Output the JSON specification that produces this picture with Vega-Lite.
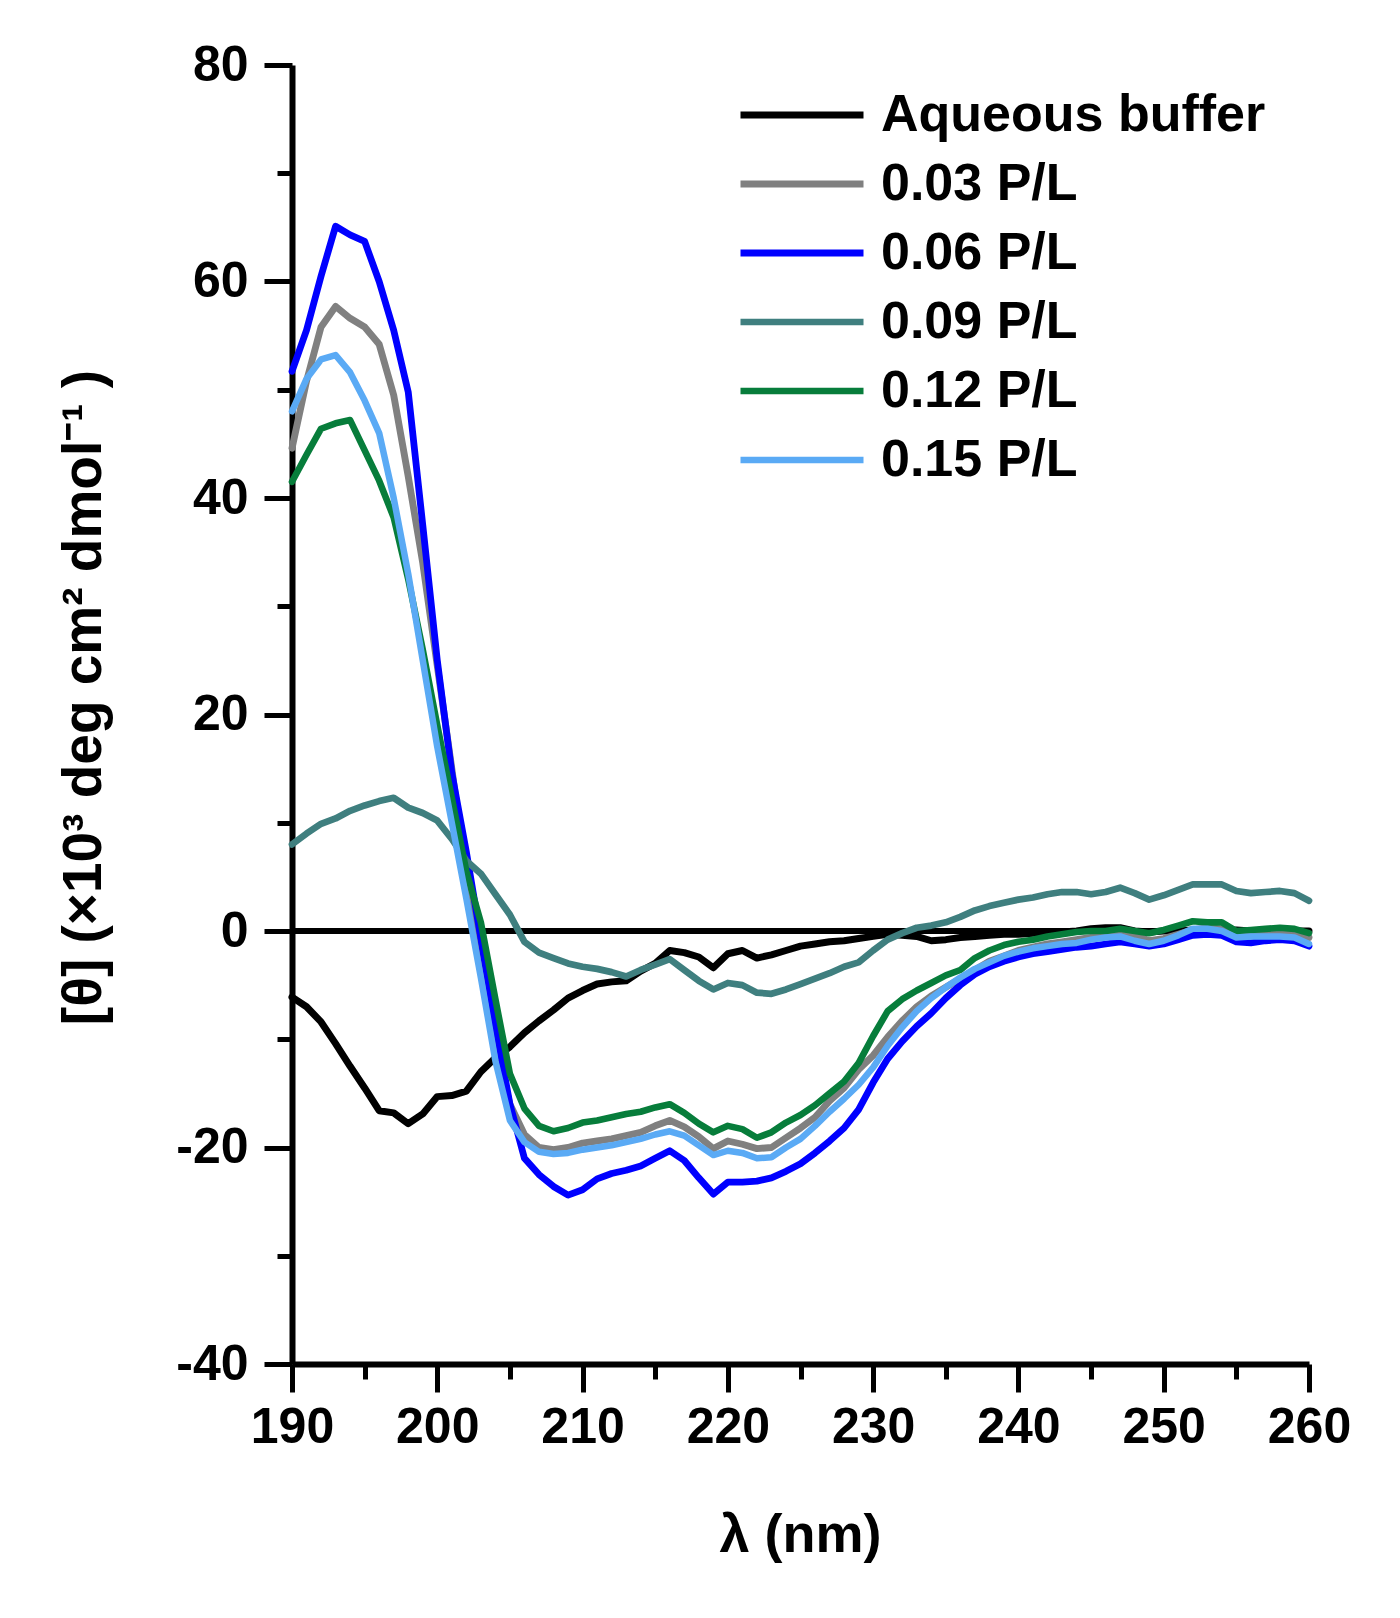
{
  "$schema": "https://vega.github.io/schema/vega-lite/v6.json",
  "width": 1017,
  "height": 1299,
  "autosize": {"type": "none"},
  "padding": {"left": 292, "top": 65, "right": 91, "bottom": 254},
  "background": "white",
  "config": {"view": {"stroke": null}, "font": "Liberation Sans"},
  "layer": [
    {
      "data": {"values": [{"zero": 0}]},
      "mark": {"type": "rule", "color": "black", "strokeWidth": 6},
      "encoding": {
        "y": {"field": "zero", "type": "quantitative", "scale": {"domain": [-40, 80], "nice": false, "zero": false}}
      }
    },
    {
      "data": {"values": [
        {"s":"Aqueous buffer","x":190,"y":-6.1},{"s":"Aqueous buffer","x":191,"y":-7.0},{"s":"Aqueous buffer","x":192,"y":-8.4},{"s":"Aqueous buffer","x":193,"y":-10.4},{"s":"Aqueous buffer","x":194,"y":-12.5},{"s":"Aqueous buffer","x":195,"y":-14.5},{"s":"Aqueous buffer","x":196,"y":-16.6},{"s":"Aqueous buffer","x":197,"y":-16.8},{"s":"Aqueous buffer","x":198,"y":-17.8},{"s":"Aqueous buffer","x":199,"y":-16.9},
        {"s":"Aqueous buffer","x":200,"y":-15.3},{"s":"Aqueous buffer","x":201,"y":-15.2},{"s":"Aqueous buffer","x":202,"y":-14.8},{"s":"Aqueous buffer","x":203,"y":-13.0},{"s":"Aqueous buffer","x":204,"y":-11.7},{"s":"Aqueous buffer","x":205,"y":-10.7},{"s":"Aqueous buffer","x":206,"y":-9.4},{"s":"Aqueous buffer","x":207,"y":-8.3},{"s":"Aqueous buffer","x":208,"y":-7.3},{"s":"Aqueous buffer","x":209,"y":-6.2},
        {"s":"Aqueous buffer","x":210,"y":-5.5},{"s":"Aqueous buffer","x":211,"y":-4.9},{"s":"Aqueous buffer","x":212,"y":-4.7},{"s":"Aqueous buffer","x":213,"y":-4.6},{"s":"Aqueous buffer","x":214,"y":-3.7},{"s":"Aqueous buffer","x":215,"y":-3.0},{"s":"Aqueous buffer","x":216,"y":-1.8},{"s":"Aqueous buffer","x":217,"y":-2.0},{"s":"Aqueous buffer","x":218,"y":-2.4},{"s":"Aqueous buffer","x":219,"y":-3.4},
        {"s":"Aqueous buffer","x":220,"y":-2.1},{"s":"Aqueous buffer","x":221,"y":-1.8},{"s":"Aqueous buffer","x":222,"y":-2.5},{"s":"Aqueous buffer","x":223,"y":-2.2},{"s":"Aqueous buffer","x":224,"y":-1.8},{"s":"Aqueous buffer","x":225,"y":-1.4},{"s":"Aqueous buffer","x":226,"y":-1.2},{"s":"Aqueous buffer","x":227,"y":-1.0},{"s":"Aqueous buffer","x":228,"y":-0.9},{"s":"Aqueous buffer","x":229,"y":-0.7},
        {"s":"Aqueous buffer","x":230,"y":-0.5},{"s":"Aqueous buffer","x":231,"y":-0.3},{"s":"Aqueous buffer","x":232,"y":-0.4},{"s":"Aqueous buffer","x":233,"y":-0.5},{"s":"Aqueous buffer","x":234,"y":-0.9},{"s":"Aqueous buffer","x":235,"y":-0.8},{"s":"Aqueous buffer","x":236,"y":-0.6},{"s":"Aqueous buffer","x":237,"y":-0.5},{"s":"Aqueous buffer","x":238,"y":-0.4},{"s":"Aqueous buffer","x":239,"y":-0.3},
        {"s":"Aqueous buffer","x":240,"y":-0.3},{"s":"Aqueous buffer","x":241,"y":-0.2},{"s":"Aqueous buffer","x":242,"y":-0.2},{"s":"Aqueous buffer","x":243,"y":-0.1},{"s":"Aqueous buffer","x":244,"y":0.0},{"s":"Aqueous buffer","x":245,"y":0.2},{"s":"Aqueous buffer","x":246,"y":0.3},{"s":"Aqueous buffer","x":247,"y":0.3},{"s":"Aqueous buffer","x":248,"y":0.0},{"s":"Aqueous buffer","x":249,"y":-0.1},
        {"s":"Aqueous buffer","x":250,"y":0.0},{"s":"Aqueous buffer","x":251,"y":0.0},{"s":"Aqueous buffer","x":252,"y":0.1},{"s":"Aqueous buffer","x":253,"y":0.0},{"s":"Aqueous buffer","x":254,"y":0.0},{"s":"Aqueous buffer","x":255,"y":0.1},{"s":"Aqueous buffer","x":256,"y":0.0},{"s":"Aqueous buffer","x":257,"y":0.0},{"s":"Aqueous buffer","x":258,"y":0.0},{"s":"Aqueous buffer","x":259,"y":0.0},{"s":"Aqueous buffer","x":260,"y":0.0},

        {"s":"0.03 P/L","x":190,"y":44.6},{"s":"0.03 P/L","x":191,"y":50.8},{"s":"0.03 P/L","x":192,"y":55.8},{"s":"0.03 P/L","x":193,"y":57.7},{"s":"0.03 P/L","x":194,"y":56.6},{"s":"0.03 P/L","x":195,"y":55.8},{"s":"0.03 P/L","x":196,"y":54.2},{"s":"0.03 P/L","x":197,"y":49.5},{"s":"0.03 P/L","x":198,"y":42.0},{"s":"0.03 P/L","x":199,"y":34.0},
        {"s":"0.03 P/L","x":200,"y":24.5},{"s":"0.03 P/L","x":201,"y":15.0},{"s":"0.03 P/L","x":202,"y":5.0},{"s":"0.03 P/L","x":203,"y":-2.5},{"s":"0.03 P/L","x":204,"y":-10.5},{"s":"0.03 P/L","x":205,"y":-16.0},{"s":"0.03 P/L","x":206,"y":-18.8},{"s":"0.03 P/L","x":207,"y":-20.0},{"s":"0.03 P/L","x":208,"y":-20.2},{"s":"0.03 P/L","x":209,"y":-20.0},
        {"s":"0.03 P/L","x":210,"y":-19.6},{"s":"0.03 P/L","x":211,"y":-19.4},{"s":"0.03 P/L","x":212,"y":-19.2},{"s":"0.03 P/L","x":213,"y":-18.9},{"s":"0.03 P/L","x":214,"y":-18.6},{"s":"0.03 P/L","x":215,"y":-18.0},{"s":"0.03 P/L","x":216,"y":-17.5},{"s":"0.03 P/L","x":217,"y":-18.1},{"s":"0.03 P/L","x":218,"y":-19.0},{"s":"0.03 P/L","x":219,"y":-20.1},
        {"s":"0.03 P/L","x":220,"y":-19.4},{"s":"0.03 P/L","x":221,"y":-19.7},{"s":"0.03 P/L","x":222,"y":-20.1},{"s":"0.03 P/L","x":223,"y":-20.0},{"s":"0.03 P/L","x":224,"y":-19.1},{"s":"0.03 P/L","x":225,"y":-18.2},{"s":"0.03 P/L","x":226,"y":-17.2},{"s":"0.03 P/L","x":227,"y":-15.7},{"s":"0.03 P/L","x":228,"y":-14.5},{"s":"0.03 P/L","x":229,"y":-12.8},
        {"s":"0.03 P/L","x":230,"y":-11.5},{"s":"0.03 P/L","x":231,"y":-9.8},{"s":"0.03 P/L","x":232,"y":-8.3},{"s":"0.03 P/L","x":233,"y":-7.0},{"s":"0.03 P/L","x":234,"y":-6.0},{"s":"0.03 P/L","x":235,"y":-5.2},{"s":"0.03 P/L","x":236,"y":-4.4},{"s":"0.03 P/L","x":237,"y":-3.6},{"s":"0.03 P/L","x":238,"y":-2.8},{"s":"0.03 P/L","x":239,"y":-2.3},
        {"s":"0.03 P/L","x":240,"y":-1.8},{"s":"0.03 P/L","x":241,"y":-1.5},{"s":"0.03 P/L","x":242,"y":-1.2},{"s":"0.03 P/L","x":243,"y":-1.0},{"s":"0.03 P/L","x":244,"y":-0.8},{"s":"0.03 P/L","x":245,"y":-0.6},{"s":"0.03 P/L","x":246,"y":-0.5},{"s":"0.03 P/L","x":247,"y":-0.2},{"s":"0.03 P/L","x":248,"y":-0.4},{"s":"0.03 P/L","x":249,"y":-0.9},
        {"s":"0.03 P/L","x":250,"y":-0.7},{"s":"0.03 P/L","x":251,"y":-0.3},{"s":"0.03 P/L","x":252,"y":0.1},{"s":"0.03 P/L","x":253,"y":0.3},{"s":"0.03 P/L","x":254,"y":0.2},{"s":"0.03 P/L","x":255,"y":-0.4},{"s":"0.03 P/L","x":256,"y":-0.3},{"s":"0.03 P/L","x":257,"y":-0.2},{"s":"0.03 P/L","x":258,"y":-0.1},{"s":"0.03 P/L","x":259,"y":-0.2},{"s":"0.03 P/L","x":260,"y":-0.6},

        {"s":"0.06 P/L","x":190,"y":51.7},{"s":"0.06 P/L","x":191,"y":55.5},{"s":"0.06 P/L","x":192,"y":60.5},{"s":"0.06 P/L","x":193,"y":65.1},{"s":"0.06 P/L","x":194,"y":64.3},{"s":"0.06 P/L","x":195,"y":63.7},{"s":"0.06 P/L","x":196,"y":60.0},{"s":"0.06 P/L","x":197,"y":55.5},{"s":"0.06 P/L","x":198,"y":49.8},{"s":"0.06 P/L","x":199,"y":37.5},
        {"s":"0.06 P/L","x":200,"y":25.0},{"s":"0.06 P/L","x":201,"y":14.6},{"s":"0.06 P/L","x":202,"y":7.3},{"s":"0.06 P/L","x":203,"y":-0.7},{"s":"0.06 P/L","x":204,"y":-8.7},{"s":"0.06 P/L","x":205,"y":-16.0},{"s":"0.06 P/L","x":206,"y":-21.0},{"s":"0.06 P/L","x":207,"y":-22.5},{"s":"0.06 P/L","x":208,"y":-23.6},{"s":"0.06 P/L","x":209,"y":-24.4},
        {"s":"0.06 P/L","x":210,"y":-23.9},{"s":"0.06 P/L","x":211,"y":-22.9},{"s":"0.06 P/L","x":212,"y":-22.4},{"s":"0.06 P/L","x":213,"y":-22.1},{"s":"0.06 P/L","x":214,"y":-21.7},{"s":"0.06 P/L","x":215,"y":-21.0},{"s":"0.06 P/L","x":216,"y":-20.3},{"s":"0.06 P/L","x":217,"y":-21.2},{"s":"0.06 P/L","x":218,"y":-22.8},{"s":"0.06 P/L","x":219,"y":-24.3},
        {"s":"0.06 P/L","x":220,"y":-23.2},{"s":"0.06 P/L","x":221,"y":-23.2},{"s":"0.06 P/L","x":222,"y":-23.1},{"s":"0.06 P/L","x":223,"y":-22.8},{"s":"0.06 P/L","x":224,"y":-22.2},{"s":"0.06 P/L","x":225,"y":-21.5},{"s":"0.06 P/L","x":226,"y":-20.5},{"s":"0.06 P/L","x":227,"y":-19.4},{"s":"0.06 P/L","x":228,"y":-18.2},{"s":"0.06 P/L","x":229,"y":-16.5},
        {"s":"0.06 P/L","x":230,"y":-14.0},{"s":"0.06 P/L","x":231,"y":-11.8},{"s":"0.06 P/L","x":232,"y":-10.2},{"s":"0.06 P/L","x":233,"y":-8.8},{"s":"0.06 P/L","x":234,"y":-7.6},{"s":"0.06 P/L","x":235,"y":-6.2},{"s":"0.06 P/L","x":236,"y":-5.0},{"s":"0.06 P/L","x":237,"y":-4.0},{"s":"0.06 P/L","x":238,"y":-3.3},{"s":"0.06 P/L","x":239,"y":-2.8},
        {"s":"0.06 P/L","x":240,"y":-2.4},{"s":"0.06 P/L","x":241,"y":-2.1},{"s":"0.06 P/L","x":242,"y":-1.9},{"s":"0.06 P/L","x":243,"y":-1.7},{"s":"0.06 P/L","x":244,"y":-1.5},{"s":"0.06 P/L","x":245,"y":-1.4},{"s":"0.06 P/L","x":246,"y":-1.2},{"s":"0.06 P/L","x":247,"y":-1.0},{"s":"0.06 P/L","x":248,"y":-1.2},{"s":"0.06 P/L","x":249,"y":-1.4},
        {"s":"0.06 P/L","x":250,"y":-1.2},{"s":"0.06 P/L","x":251,"y":-0.8},{"s":"0.06 P/L","x":252,"y":-0.4},{"s":"0.06 P/L","x":253,"y":-0.3},{"s":"0.06 P/L","x":254,"y":-0.4},{"s":"0.06 P/L","x":255,"y":-1.0},{"s":"0.06 P/L","x":256,"y":-1.1},{"s":"0.06 P/L","x":257,"y":-0.9},{"s":"0.06 P/L","x":258,"y":-0.8},{"s":"0.06 P/L","x":259,"y":-0.9},{"s":"0.06 P/L","x":260,"y":-1.4},

        {"s":"0.09 P/L","x":190,"y":8.0},{"s":"0.09 P/L","x":191,"y":9.0},{"s":"0.09 P/L","x":192,"y":9.9},{"s":"0.09 P/L","x":193,"y":10.4},{"s":"0.09 P/L","x":194,"y":11.1},{"s":"0.09 P/L","x":195,"y":11.6},{"s":"0.09 P/L","x":196,"y":12.0},{"s":"0.09 P/L","x":197,"y":12.3},{"s":"0.09 P/L","x":198,"y":11.4},{"s":"0.09 P/L","x":199,"y":10.9},
        {"s":"0.09 P/L","x":200,"y":10.2},{"s":"0.09 P/L","x":201,"y":8.5},{"s":"0.09 P/L","x":202,"y":6.5},{"s":"0.09 P/L","x":203,"y":5.3},{"s":"0.09 P/L","x":204,"y":3.4},{"s":"0.09 P/L","x":205,"y":1.5},{"s":"0.09 P/L","x":206,"y":-1.0},{"s":"0.09 P/L","x":207,"y":-2.0},{"s":"0.09 P/L","x":208,"y":-2.5},{"s":"0.09 P/L","x":209,"y":-3.0},
        {"s":"0.09 P/L","x":210,"y":-3.3},{"s":"0.09 P/L","x":211,"y":-3.5},{"s":"0.09 P/L","x":212,"y":-3.8},{"s":"0.09 P/L","x":213,"y":-4.2},{"s":"0.09 P/L","x":214,"y":-3.6},{"s":"0.09 P/L","x":215,"y":-3.1},{"s":"0.09 P/L","x":216,"y":-2.6},{"s":"0.09 P/L","x":217,"y":-3.6},{"s":"0.09 P/L","x":218,"y":-4.6},{"s":"0.09 P/L","x":219,"y":-5.4},
        {"s":"0.09 P/L","x":220,"y":-4.8},{"s":"0.09 P/L","x":221,"y":-5.0},{"s":"0.09 P/L","x":222,"y":-5.7},{"s":"0.09 P/L","x":223,"y":-5.8},{"s":"0.09 P/L","x":224,"y":-5.4},{"s":"0.09 P/L","x":225,"y":-4.9},{"s":"0.09 P/L","x":226,"y":-4.4},{"s":"0.09 P/L","x":227,"y":-3.9},{"s":"0.09 P/L","x":228,"y":-3.3},{"s":"0.09 P/L","x":229,"y":-2.9},
        {"s":"0.09 P/L","x":230,"y":-1.8},{"s":"0.09 P/L","x":231,"y":-0.8},{"s":"0.09 P/L","x":232,"y":-0.2},{"s":"0.09 P/L","x":233,"y":0.3},{"s":"0.09 P/L","x":234,"y":0.5},{"s":"0.09 P/L","x":235,"y":0.8},{"s":"0.09 P/L","x":236,"y":1.3},{"s":"0.09 P/L","x":237,"y":1.9},{"s":"0.09 P/L","x":238,"y":2.3},{"s":"0.09 P/L","x":239,"y":2.6},
        {"s":"0.09 P/L","x":240,"y":2.9},{"s":"0.09 P/L","x":241,"y":3.1},{"s":"0.09 P/L","x":242,"y":3.4},{"s":"0.09 P/L","x":243,"y":3.6},{"s":"0.09 P/L","x":244,"y":3.6},{"s":"0.09 P/L","x":245,"y":3.4},{"s":"0.09 P/L","x":246,"y":3.6},{"s":"0.09 P/L","x":247,"y":4.0},{"s":"0.09 P/L","x":248,"y":3.5},{"s":"0.09 P/L","x":249,"y":2.9},
        {"s":"0.09 P/L","x":250,"y":3.3},{"s":"0.09 P/L","x":251,"y":3.8},{"s":"0.09 P/L","x":252,"y":4.3},{"s":"0.09 P/L","x":253,"y":4.3},{"s":"0.09 P/L","x":254,"y":4.3},{"s":"0.09 P/L","x":255,"y":3.7},{"s":"0.09 P/L","x":256,"y":3.5},{"s":"0.09 P/L","x":257,"y":3.6},{"s":"0.09 P/L","x":258,"y":3.7},{"s":"0.09 P/L","x":259,"y":3.5},{"s":"0.09 P/L","x":260,"y":2.8},

        {"s":"0.12 P/L","x":190,"y":41.5},{"s":"0.12 P/L","x":191,"y":44.0},{"s":"0.12 P/L","x":192,"y":46.4},{"s":"0.12 P/L","x":193,"y":46.9},{"s":"0.12 P/L","x":194,"y":47.2},{"s":"0.12 P/L","x":195,"y":44.4},{"s":"0.12 P/L","x":196,"y":41.6},{"s":"0.12 P/L","x":197,"y":38.2},{"s":"0.12 P/L","x":198,"y":32.5},{"s":"0.12 P/L","x":199,"y":26.0},
        {"s":"0.12 P/L","x":200,"y":19.0},{"s":"0.12 P/L","x":201,"y":12.3},{"s":"0.12 P/L","x":202,"y":5.5},{"s":"0.12 P/L","x":203,"y":0.8},{"s":"0.12 P/L","x":204,"y":-6.3},{"s":"0.12 P/L","x":205,"y":-13.2},{"s":"0.12 P/L","x":206,"y":-16.4},{"s":"0.12 P/L","x":207,"y":-18.0},{"s":"0.12 P/L","x":208,"y":-18.5},{"s":"0.12 P/L","x":209,"y":-18.2},
        {"s":"0.12 P/L","x":210,"y":-17.7},{"s":"0.12 P/L","x":211,"y":-17.5},{"s":"0.12 P/L","x":212,"y":-17.2},{"s":"0.12 P/L","x":213,"y":-16.9},{"s":"0.12 P/L","x":214,"y":-16.7},{"s":"0.12 P/L","x":215,"y":-16.3},{"s":"0.12 P/L","x":216,"y":-16.0},{"s":"0.12 P/L","x":217,"y":-16.8},{"s":"0.12 P/L","x":218,"y":-17.8},{"s":"0.12 P/L","x":219,"y":-18.6},
        {"s":"0.12 P/L","x":220,"y":-18.0},{"s":"0.12 P/L","x":221,"y":-18.3},{"s":"0.12 P/L","x":222,"y":-19.1},{"s":"0.12 P/L","x":223,"y":-18.6},{"s":"0.12 P/L","x":224,"y":-17.7},{"s":"0.12 P/L","x":225,"y":-17.0},{"s":"0.12 P/L","x":226,"y":-16.1},{"s":"0.12 P/L","x":227,"y":-15.0},{"s":"0.12 P/L","x":228,"y":-13.9},{"s":"0.12 P/L","x":229,"y":-12.2},
        {"s":"0.12 P/L","x":230,"y":-9.7},{"s":"0.12 P/L","x":231,"y":-7.4},{"s":"0.12 P/L","x":232,"y":-6.3},{"s":"0.12 P/L","x":233,"y":-5.5},{"s":"0.12 P/L","x":234,"y":-4.8},{"s":"0.12 P/L","x":235,"y":-4.1},{"s":"0.12 P/L","x":236,"y":-3.6},{"s":"0.12 P/L","x":237,"y":-2.5},{"s":"0.12 P/L","x":238,"y":-1.8},{"s":"0.12 P/L","x":239,"y":-1.3},
        {"s":"0.12 P/L","x":240,"y":-1.0},{"s":"0.12 P/L","x":241,"y":-0.8},{"s":"0.12 P/L","x":242,"y":-0.5},{"s":"0.12 P/L","x":243,"y":-0.3},{"s":"0.12 P/L","x":244,"y":-0.1},{"s":"0.12 P/L","x":245,"y":0.0},{"s":"0.12 P/L","x":246,"y":0.0},{"s":"0.12 P/L","x":247,"y":0.2},{"s":"0.12 P/L","x":248,"y":0.0},{"s":"0.12 P/L","x":249,"y":-0.2},
        {"s":"0.12 P/L","x":250,"y":0.1},{"s":"0.12 P/L","x":251,"y":0.5},{"s":"0.12 P/L","x":252,"y":0.9},{"s":"0.12 P/L","x":253,"y":0.8},{"s":"0.12 P/L","x":254,"y":0.8},{"s":"0.12 P/L","x":255,"y":0.0},{"s":"0.12 P/L","x":256,"y":0.1},{"s":"0.12 P/L","x":257,"y":0.2},{"s":"0.12 P/L","x":258,"y":0.3},{"s":"0.12 P/L","x":259,"y":0.2},{"s":"0.12 P/L","x":260,"y":-0.2},

        {"s":"0.15 P/L","x":190,"y":48.0},{"s":"0.15 P/L","x":191,"y":51.0},{"s":"0.15 P/L","x":192,"y":52.8},{"s":"0.15 P/L","x":193,"y":53.2},{"s":"0.15 P/L","x":194,"y":51.6},{"s":"0.15 P/L","x":195,"y":49.0},{"s":"0.15 P/L","x":196,"y":46.0},{"s":"0.15 P/L","x":197,"y":40.0},{"s":"0.15 P/L","x":198,"y":33.0},{"s":"0.15 P/L","x":199,"y":25.0},
        {"s":"0.15 P/L","x":200,"y":17.0},{"s":"0.15 P/L","x":201,"y":10.0},{"s":"0.15 P/L","x":202,"y":3.0},{"s":"0.15 P/L","x":203,"y":-4.3},{"s":"0.15 P/L","x":204,"y":-12.0},{"s":"0.15 P/L","x":205,"y":-17.5},{"s":"0.15 P/L","x":206,"y":-19.5},{"s":"0.15 P/L","x":207,"y":-20.4},{"s":"0.15 P/L","x":208,"y":-20.6},{"s":"0.15 P/L","x":209,"y":-20.5},
        {"s":"0.15 P/L","x":210,"y":-20.2},{"s":"0.15 P/L","x":211,"y":-20.0},{"s":"0.15 P/L","x":212,"y":-19.8},{"s":"0.15 P/L","x":213,"y":-19.5},{"s":"0.15 P/L","x":214,"y":-19.2},{"s":"0.15 P/L","x":215,"y":-18.8},{"s":"0.15 P/L","x":216,"y":-18.5},{"s":"0.15 P/L","x":217,"y":-18.9},{"s":"0.15 P/L","x":218,"y":-19.8},{"s":"0.15 P/L","x":219,"y":-20.7},
        {"s":"0.15 P/L","x":220,"y":-20.3},{"s":"0.15 P/L","x":221,"y":-20.5},{"s":"0.15 P/L","x":222,"y":-21.0},{"s":"0.15 P/L","x":223,"y":-20.9},{"s":"0.15 P/L","x":224,"y":-20.0},{"s":"0.15 P/L","x":225,"y":-19.2},{"s":"0.15 P/L","x":226,"y":-18.0},{"s":"0.15 P/L","x":227,"y":-16.7},{"s":"0.15 P/L","x":228,"y":-15.5},{"s":"0.15 P/L","x":229,"y":-14.2},
        {"s":"0.15 P/L","x":230,"y":-12.6},{"s":"0.15 P/L","x":231,"y":-10.6},{"s":"0.15 P/L","x":232,"y":-8.9},{"s":"0.15 P/L","x":233,"y":-7.4},{"s":"0.15 P/L","x":234,"y":-6.2},{"s":"0.15 P/L","x":235,"y":-5.2},{"s":"0.15 P/L","x":236,"y":-4.3},{"s":"0.15 P/L","x":237,"y":-3.5},{"s":"0.15 P/L","x":238,"y":-2.9},{"s":"0.15 P/L","x":239,"y":-2.3},
        {"s":"0.15 P/L","x":240,"y":-1.9},{"s":"0.15 P/L","x":241,"y":-1.6},{"s":"0.15 P/L","x":242,"y":-1.4},{"s":"0.15 P/L","x":243,"y":-1.2},{"s":"0.15 P/L","x":244,"y":-1.1},{"s":"0.15 P/L","x":245,"y":-0.8},{"s":"0.15 P/L","x":246,"y":-0.6},{"s":"0.15 P/L","x":247,"y":-0.5},{"s":"0.15 P/L","x":248,"y":-0.9},{"s":"0.15 P/L","x":249,"y":-1.2},
        {"s":"0.15 P/L","x":250,"y":-0.9},{"s":"0.15 P/L","x":251,"y":-0.4},{"s":"0.15 P/L","x":252,"y":0.2},{"s":"0.15 P/L","x":253,"y":0.2},{"s":"0.15 P/L","x":254,"y":0.0},{"s":"0.15 P/L","x":255,"y":-0.6},{"s":"0.15 P/L","x":256,"y":-0.5},{"s":"0.15 P/L","x":257,"y":-0.5},{"s":"0.15 P/L","x":258,"y":-0.5},{"s":"0.15 P/L","x":259,"y":-0.6},{"s":"0.15 P/L","x":260,"y":-1.2}
      ]},
      "mark": {"type": "line", "strokeJoin": "round", "strokeCap": "round"},
      "encoding": {
        "x": {
          "field": "x", "type": "quantitative",
          "scale": {"domain": [190, 260], "nice": false, "zero": false},
          "axis": {
            "values": [190, 195, 200, 205, 210, 215, 220, 225, 230, 235, 240, 245, 250, 255, 260],
            "labelExpr": "datum.value % 10 === 0 ? datum.label : ''",
            "tickSize": {"condition": {"test": "datum.value % 10 === 0", "value": 28}, "value": 15},
            "tickWidth": 5, "tickColor": "black",
            "domainColor": "black", "domainWidth": 6,
            "grid": false, "labelFlush": false, "labelOverlap": false,
            "labelFont": "Liberation Sans", "labelFontSize": 50, "labelFontWeight": "bold", "labelColor": "black",
            "labelPadding": 10,
            "title": "λ (nm)",
            "titleFont": "Liberation Sans", "titleFontSize": 54, "titleFontWeight": "bold", "titleColor": "black",
            "titleX": 508, "titleY": 171, "titleAlign": "center", "titleBaseline": "middle"
          }
        },
        "y": {
          "field": "y", "type": "quantitative",
          "scale": {"domain": [-40, 80], "nice": false, "zero": false},
          "axis": {
            "values": [-40, -30, -20, -10, 0, 10, 20, 30, 40, 50, 60, 70, 80],
            "labelExpr": "datum.value % 20 === 0 ? datum.value + '' : ''",
            "tickSize": {"condition": {"test": "datum.value % 20 === 0", "value": 28}, "value": 15},
            "tickWidth": 5, "tickColor": "black",
            "domainColor": "black", "domainWidth": 6,
            "grid": false, "labelFlush": false, "labelOverlap": false,
            "labelFont": "Liberation Sans", "labelFontSize": 50, "labelFontWeight": "bold", "labelColor": "black",
            "labelPadding": 16,
            "title": "[θ] (×10³ deg cm² dmol⁻¹ )",
            "titleFont": "Liberation Sans", "titleFontSize": 55, "titleFontWeight": "bold", "titleColor": "black",
            "titleAngle": -90, "titleX": -209, "titleY": 632, "titleAlign": "center", "titleBaseline": "middle"
          }
        },
        "color": {
          "field": "s", "type": "nominal",
          "scale": {
            "domain": ["Aqueous buffer", "0.03 P/L", "0.06 P/L", "0.09 P/L", "0.12 P/L", "0.15 P/L"],
            "range": ["#000000", "#808080", "#0000ff", "#3f7f7f", "#077d3b", "#5aaaf5"]
          },
          "legend": {
            "title": null, "orient": "none", "legendX": 445, "legendY": 25,
            "symbolType": "stroke", "symbolSize": 15129, "symbolStrokeWidth": 8,
            "clipHeight": 50,
            "labelFont": "Liberation Sans", "labelFontSize": 52, "labelFontWeight": "bold", "labelColor": "black",
            "labelOffset": 14, "labelLimit": 0, "rowPadding": 17, "padding": 0
          }
        },
        "strokeWidth": {
          "field": "s", "type": "nominal",
          "scale": {
            "domain": ["Aqueous buffer", "0.03 P/L", "0.06 P/L", "0.09 P/L", "0.12 P/L", "0.15 P/L"],
            "range": [7, 6.5, 8, 7, 6.5, 7]
          },
          "legend": null
        }
      }
    }
  ]
}
